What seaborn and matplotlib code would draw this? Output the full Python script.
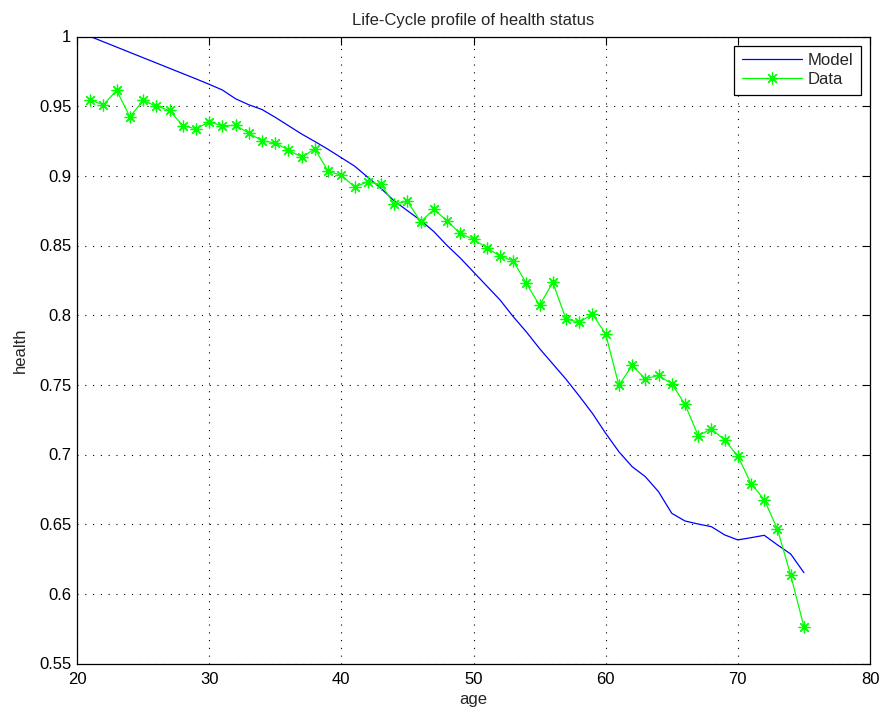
import numpy as np
import pandas as pd
import matplotlib
matplotlib.use("Agg")
import matplotlib.pyplot as plt
import seaborn as sns

ages = list(range(21, 76))
model = [1.000, 0.9962, 0.9924, 0.9886, 0.9848, 0.981, 0.9772, 0.9734, 0.9696, 0.9657,
         0.9616, 0.9553, 0.951, 0.9476, 0.942, 0.936, 0.930, 0.9246, 0.919, 0.913,
         0.907, 0.899, 0.891, 0.882, 0.875, 0.868, 0.860, 0.850, 0.841, 0.831,
         0.821, 0.811, 0.799, 0.788, 0.776, 0.765, 0.754, 0.742, 0.7295, 0.7152,
         0.702, 0.6913, 0.6841, 0.6733, 0.6578, 0.6523, 0.6501, 0.6482, 0.6423, 0.6387,
         0.6403, 0.642, 0.6351, 0.6286, 0.6152]
data = [0.9543, 0.951, 0.9614, 0.9423, 0.9541, 0.950, 0.9469, 0.936, 0.9338, 0.9386,
        0.936, 0.9362, 0.9307, 0.9251, 0.9237, 0.9184, 0.9135, 0.9193, 0.9033, 0.9005,
        0.8921, 0.8957, 0.8938, 0.8797, 0.8818, 0.867, 0.8759, 0.8677, 0.8587, 0.8544,
        0.8484, 0.8424, 0.839, 0.8228, 0.807, 0.8235, 0.7972, 0.795, 0.8008, 0.7864,
        0.7496, 0.7639, 0.7544, 0.7567, 0.7508, 0.736, 0.7135, 0.7183, 0.7104, 0.6989,
        0.6791, 0.6676, 0.6463, 0.6133, 0.5765]
xticks = [20, 30, 40, 50, 60, 70, 80]
yticks = [0.55, 0.6, 0.65, 0.7, 0.75, 0.8, 0.85, 0.9, 0.95, 1.0]
yticklabels = ["0.55", "0.6", "0.65", "0.7", "0.75", "0.8", "0.85", "0.9", "0.95", "1"]

sns.set_style("white")
plt.rcParams['font.family'] = ['Liberation Sans', 'DejaVu Sans']
plt.rcParams['font.size'] = 12

df = pd.DataFrame({"age": ages, "Model": model, "Data": data})

fig = plt.figure(figsize=(8.83, 7.19), dpi=100)
ax = fig.add_axes([77/883, 1 - 663.5/719, (870-77)/883, (663.5-36.5)/719])

sns.lineplot(data=df, x="age", y="Model", ax=ax, color=(0, 0, 1), lw=0.9, label="Model")
sns.lineplot(data=df, x="age", y="Data", ax=ax, color=(0, 1, 0), lw=0.9,
             marker=(8, 2, 0), markersize=8.5, markeredgecolor=(0, 1, 0),
             markeredgewidth=0.9, label="Data")

ax.set_xlim(20, 80)
ax.set_ylim(0.55, 1.0)
ax.set_xticks(xticks)
ax.set_xticklabels([str(t) for t in xticks])
ax.set_yticks(yticks)
ax.set_yticklabels(yticklabels)
ax.grid(True, linestyle=(0, (1, 6)), color='black', linewidth=0.8)
ax.tick_params(direction='in', top=True, right=True, length=6, width=0.8,
               labelsize=12, colors='black')
ax.tick_params(axis='x', pad=6)
ax.tick_params(axis='y', pad=4)
for s in ax.spines.values():
    s.set_color('black')
    s.set_linewidth(0.9)
ax.set_xlabel("age", fontsize=12, labelpad=4)
ax.set_ylabel("health", fontsize=12, labelpad=8)
ax.set_title("Life-Cycle profile of health status", fontsize=12, pad=8)

leg = ax.legend(loc='upper right', fancybox=False, framealpha=1, edgecolor='black',
                fontsize=12, borderaxespad=0.55, handlelength=3.6, borderpad=0.45,
                labelspacing=0.25, handletextpad=0.35)
leg.get_frame().set_linewidth(0.9)

fig.savefig("out.png", dpi=100)
